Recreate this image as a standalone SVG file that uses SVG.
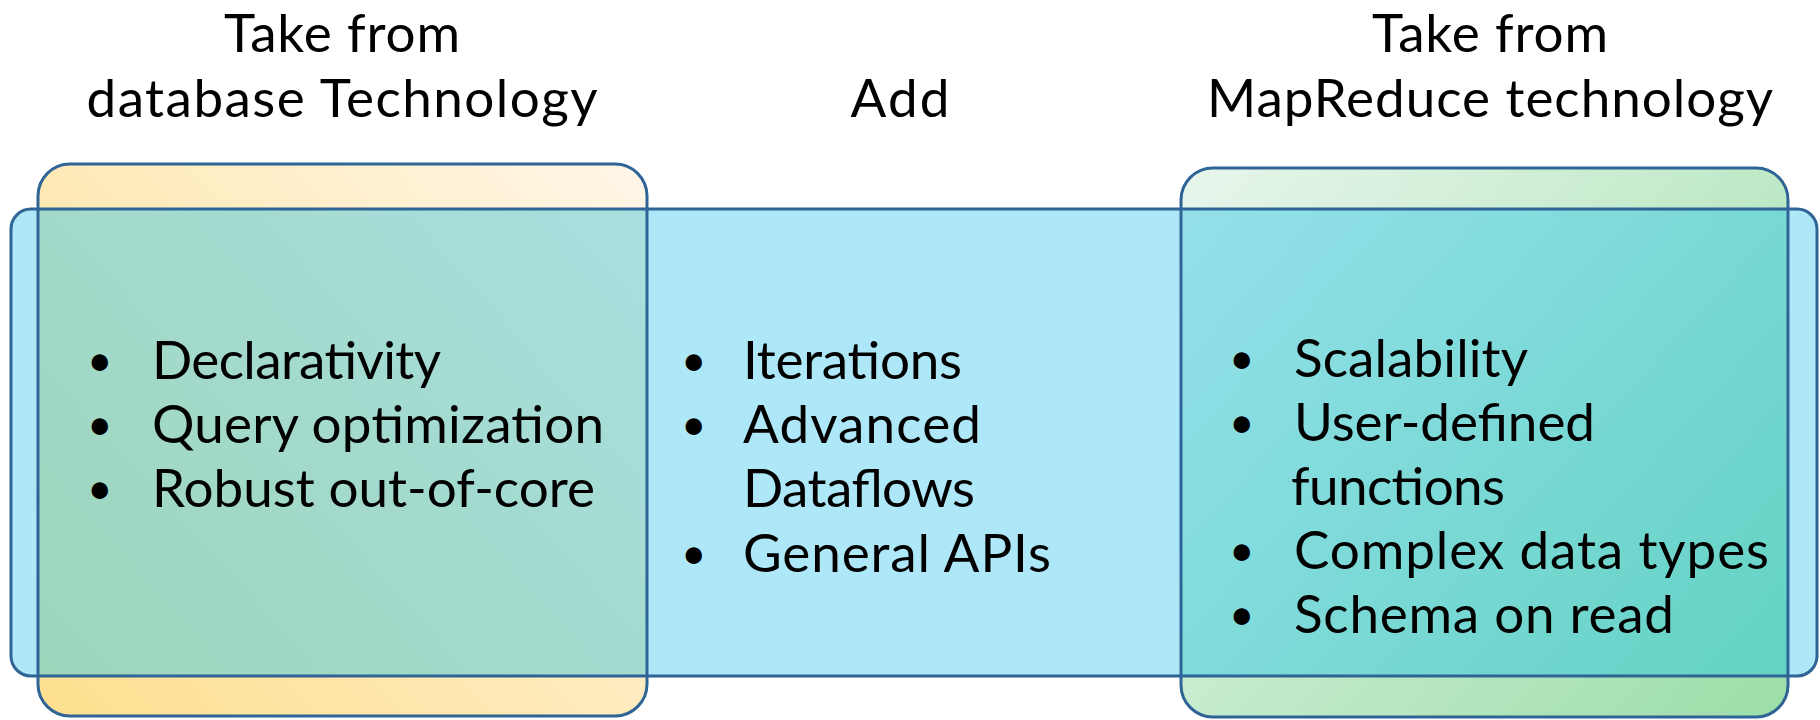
<svg xmlns="http://www.w3.org/2000/svg" width="1820" height="720" viewBox="0 0 1820 720">
<defs>
<linearGradient id="gOrange" gradientUnits="userSpaceOnUse" x1="38" y1="716" x2="647" y2="164">
<stop offset="0" stop-color="#FEDF8E"/>
<stop offset="1" stop-color="#FFF6E8"/>
</linearGradient>
<linearGradient id="gOrangeOv" gradientUnits="userSpaceOnUse" x1="38" y1="716" x2="647" y2="164">
<stop offset="0" stop-color="#9DD5BA"/>
<stop offset="1" stop-color="#A9DFE0"/>
</linearGradient>
<linearGradient id="gGreen" gradientUnits="userSpaceOnUse" x1="1181" y1="168" x2="1788" y2="717">
<stop offset="0" stop-color="#E8F6EC"/>
<stop offset="1" stop-color="#9CDEA8"/>
</linearGradient>
<linearGradient id="gGreenOv" gradientUnits="userSpaceOnUse" x1="1181" y1="168" x2="1788" y2="717">
<stop offset="0" stop-color="#96E1EC"/>
<stop offset="1" stop-color="#62D2C2"/>
</linearGradient>
</defs>
<style>
.edge{fill:none;stroke:#2F6496;stroke-width:3}
.t{font-family:Lato,"Noto Sans","Liberation Sans",sans-serif;font-size:53px;fill:#000}
.b{font-family:Lato,"Noto Sans","Liberation Sans",sans-serif;font-size:44px;fill:#000}
.h{text-anchor:middle}
</style>
<rect width="1820" height="720" fill="#FFFFFF"/>

<g id="band">
<rect x="11" y="209" width="1806" height="467" rx="20" fill="#AEE8F8"/>
</g>

<g id="database">
<path d="M70,164 H615 A32,32 0 0 1 647,196 V209 H38 V196 A32,32 0 0 1 70,164 Z" fill="url(#gOrange)"/>
<path d="M38,676 H647 V684 A32,32 0 0 1 615,716 H70 A32,32 0 0 1 38,684 Z" fill="url(#gOrange)"/>
<rect x="38" y="209" width="609" height="467" fill="url(#gOrangeOv)"/>
</g>

<g id="mapreduce">
<path d="M1213,168 H1756 A32,32 0 0 1 1788,200 V209 H1181 V200 A32,32 0 0 1 1213,168 Z" fill="url(#gGreen)"/>
<path d="M1181,676 H1788 V685 A32,32 0 0 1 1756,717 H1213 A32,32 0 0 1 1181,685 Z" fill="url(#gGreen)"/>
<rect x="1181" y="209" width="607" height="467" fill="url(#gGreenOv)"/>
</g>

<g id="outlines">
<rect class="edge" x="11" y="209" width="1806" height="467" rx="20"/>
<rect class="edge" x="38" y="164" width="609" height="552" rx="32"/>
<rect class="edge" x="1181" y="168" width="607" height="549" rx="32"/>
</g>

<g id="headers">
<text class="t h" x="342" y="52" textLength="236">Take from</text>
<text class="t h" x="342" y="117" textLength="511">database Technology</text>
<text class="t h" x="900" y="117" textLength="99">Add</text>
<text class="t h" x="1490" y="52" textLength="236">Take from</text>
<text class="t h" x="1490" y="117" textLength="566">MapReduce technology</text>
</g>

<g id="database-items">
<text class="b" x="87" y="376">•</text>
<text class="t" x="152" y="379" textLength="289">Declarativity</text>
<text class="b" x="87" y="440">•</text>
<text class="t" x="152" y="443" textLength="452">Query optimization</text>
<text class="b" x="87" y="504">•</text>
<text class="t" x="152" y="507" textLength="443">Robust out-of-core</text>
</g>

<g id="add-items">
<text class="b" x="681" y="376">•</text>
<text class="t" x="743" y="379" textLength="219">Iterations</text>
<text class="b" x="681" y="440">•</text>
<text class="t" x="743" y="443" textLength="238">Advanced</text>
<text class="t" x="743" y="507" textLength="232">Dataflows</text>
<text class="b" x="681" y="569">•</text>
<text class="t" x="743" y="572" textLength="308">General APIs</text>
</g>

<g id="mapreduce-items">
<text class="b" x="1229" y="374">•</text>
<text class="t" x="1294" y="377" textLength="234">Scalability</text>
<text class="b" x="1229" y="438">•</text>
<text class="t" x="1294" y="441" textLength="301">User-defined</text>
<text class="t" x="1291" y="505" textLength="214">functions</text>
<text class="b" x="1229" y="566">•</text>
<text class="t" x="1294" y="569" textLength="475">Complex data types</text>
<text class="b" x="1229" y="630">•</text>
<text class="t" x="1294" y="633" textLength="380">Schema on read</text>
</g>
</svg>
